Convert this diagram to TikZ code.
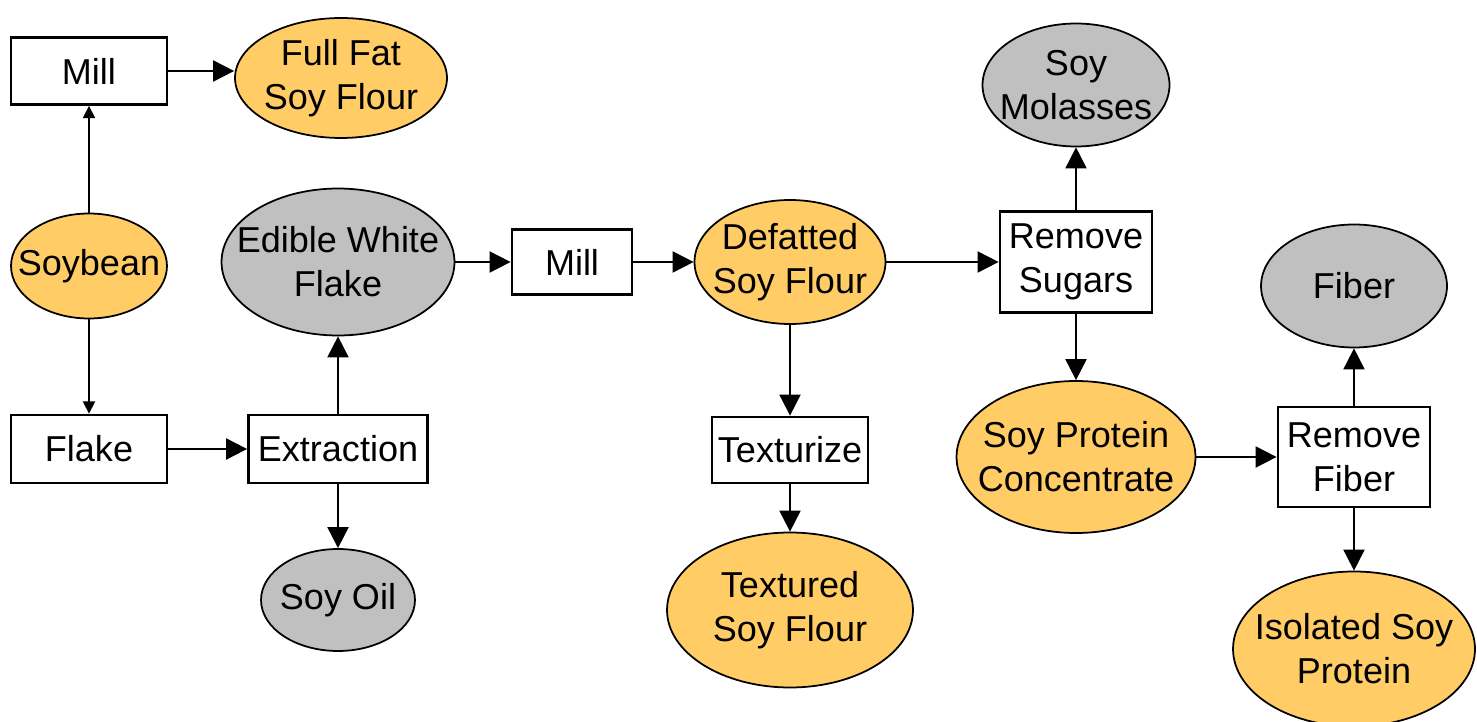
\documentclass[tikz,border=0pt]{standalone}
\usepackage{fontspec}
\setmainfont{Liberation Sans}
\usepackage{tikz}
\usetikzlibrary{arrows.meta,shapes.geometric}
\definecolor{soyorange}{HTML}{FFCC66}
\definecolor{soygray}{HTML}{C0C0C0}

\begin{document}
\begin{tikzpicture}[
    x=0.02cm, y=-0.02cm,
    font=\fontsize{20.5}{25}\selectfont,
    process/.style={draw, line width=1.6pt, fill=white, inner sep=0pt, align=center},
    product/.style={ellipse, draw, line width=1pt, fill=soyorange, inner sep=-0.5cm, align=center},
    byproduct/.style={product, fill=soygray},
    flow/.style={-{Triangle[length=12pt, width=12pt]}, line width=1.1pt},
    thin_flow/.style={-{Triangle[length=7pt, width=7pt]}, line width=0.8pt}
]
    % Frame of the picture (the last ellipse is cut at the edges)
    \clip (0,0) rectangle (1477,722);

    % --- Left part: soybean, milling and extraction ---
    \node[process, minimum width=3.12cm, minimum height=1.34cm] (mill_a) at (89,71) {Mill};
    \node[product, minimum width=4.24cm, minimum height=2.4cm] (fullfat) at (341,78) {Full Fat\\Soy Flour};
    \node[product, minimum width=3.12cm, minimum height=2.1cm] (soybean) at (89,266) {Soybean};
    \node[byproduct, minimum width=4.66cm, minimum height=2.94cm] (whiteflake) at (338,262) {Edible White\\Flake};
    \node[process, minimum width=3.12cm, minimum height=1.36cm] (flake) at (89,449) {Flake};
    \node[process, minimum width=3.58cm, minimum height=1.36cm] (extraction) at (338,449) {Extraction};
    \node[byproduct, minimum width=3.08cm, minimum height=2.04cm] (soyoil) at (338,600) {Soy Oil};

    % --- Middle part: defatted flour ---
    \node[process, minimum width=2.4cm, minimum height=1.3cm] (mill_b) at (572,262) {Mill};
    \node[product, minimum width=3.82cm, minimum height=2.48cm] (defatted) at (790,262) {Defatted\\Soy Flour};
    \node[process, minimum width=3.12cm, minimum height=1.32cm] (texturize) at (790,450) {Texturize};
    \node[product, minimum width=4.92cm, minimum height=3.1cm] (textured) at (790,610) {Textured\\Soy Flour};

    % --- Right part: protein concentrate and isolate ---
    \node[byproduct, minimum width=3.74cm, minimum height=2.46cm] (molasses) at (1076,85) {Soy\\Molasses};
    \node[process, minimum width=3.04cm, minimum height=2.02cm] (sugars) at (1076,262) {Remove\\Sugars};
    \node[product, minimum width=4.78cm, minimum height=3.04cm] (concentrate) at (1076,457) {Soy Protein\\Concentrate};
    \node[byproduct, minimum width=3.72cm, minimum height=2.46cm] (fiber) at (1354,286) {Fiber};
    \node[process, minimum width=3.04cm, minimum height=2.0cm] (removefiber) at (1354,457) {Remove\\Fiber};
    \node[product, minimum width=4.84cm, minimum height=3.1cm] (isolated) at (1354,649) {Isolated Soy\\Protein};

    % Flows
    \draw[thin_flow] (soybean) -- (mill_a);
    \draw[thin_flow] (soybean) -- (flake);
    \draw[flow] (mill_a.east) -- (mill_a.east -| fullfat.west);
    \draw[flow] (flake) -- (extraction);
    \draw[flow] (extraction) -- (whiteflake);
    \draw[flow] (extraction) -- (soyoil);
    \draw[flow] (whiteflake) -- (mill_b);
    \draw[flow] (mill_b) -- (defatted);
    \draw[flow] (defatted) -- (texturize);
    \draw[flow] (texturize) -- (textured);
    \draw[flow] (defatted) -- (sugars);
    \draw[flow] (sugars) -- (molasses);
    \draw[flow] (sugars) -- (concentrate);
    \draw[flow] (concentrate) -- (removefiber);
    \draw[flow] (removefiber) -- (fiber);
    \draw[flow] (removefiber) -- (isolated);
\end{tikzpicture}
\end{document}
